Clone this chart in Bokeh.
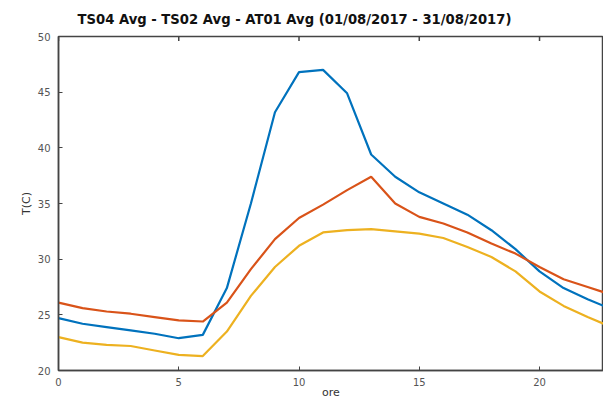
import math
from bokeh.plotting import figure
from bokeh.models import Range1d, FixedTicker
from bokeh.embed import file_html
from bokeh.resources import INLINE

hours = list(range(24))
ts04 = [24.7, 24.2, 23.9, 23.6, 23.3, 22.9, 23.2, 27.4, 35.0, 43.2, 46.8, 47.0,
        44.9, 39.4, 37.4, 36.0, 35.0, 34.0, 32.6, 30.9, 28.9, 27.4, 26.4, 25.5]
ts02 = [26.1, 25.6, 25.3, 25.1, 24.8, 24.5, 24.4, 26.1, 29.1, 31.8, 33.7, 34.9,
        36.2, 37.4, 35.0, 33.8, 33.2, 32.4, 31.4, 30.5, 29.3, 28.2, 27.5, 26.8]
at01 = [23.0, 22.5, 22.3, 22.2, 21.8, 21.4, 21.3, 23.5, 26.7, 29.3, 31.2, 32.4,
        32.6, 32.7, 32.5, 32.3, 31.9, 31.1, 30.2, 28.9, 27.1, 25.8, 24.8, 23.9]

x_ticks = [0, 5, 10, 15, 20]
y_ticks = [20, 25, 30, 35, 40, 45, 50]

p = figure(width=603, height=401, output_backend="svg", toolbar_location=None,
           x_range=Range1d(0, 22.66), y_range=Range1d(20, 50),
           min_border_left=58, min_border_right=0, min_border_top=36,
           min_border_bottom=29,
           title="TS04 Avg - TS02 Avg - AT01 Avg  (01/08/2017 - 31/08/2017)")

p.title.text_font = "DejaVu Sans"
p.title.text_font_style = "bold"
p.title.text_font_size = "13.2px"
p.title.align = "left"
p.title.offset = 19
p.title.standoff = 19
p.title.text_color = "#111111"

p.grid.visible = False
p.outline_line_color = "#444444"
p.outline_line_width = 1.5
p.background_fill_color = "white"
p.border_fill_color = "white"

for ax in [p.xaxis[0], p.yaxis[0]]:
    ax.axis_line_color = "#444444"
    ax.axis_line_width = 1.5
    ax.major_tick_in = 4
    ax.major_tick_out = 0
    ax.major_tick_line_color = "#444444"
    ax.minor_tick_line_color = None
    ax.major_label_text_font = "DejaVu Sans"
    ax.major_label_text_font_size = "10px"
    ax.major_label_text_color = "#555555"
    ax.axis_label_text_font = "DejaVu Sans"
    ax.axis_label_text_font_size = "11px"
    ax.axis_label_text_font_style = "normal"
    ax.axis_label_text_color = "#333333"

p.xaxis[0].ticker = FixedTicker(ticks=x_ticks)
p.yaxis[0].ticker = FixedTicker(ticks=y_ticks)
p.xaxis[0].axis_label = "ore"
p.yaxis[0].axis_label = "T(C)"
p.xaxis[0].major_label_standoff = 7
p.xaxis[0].axis_label_standoff = -3
p.yaxis[0].major_label_standoff = 8
p.yaxis[0].axis_label_standoff = 2

# mirrored tick marks on the top edge of the box
p.scatter(x_ticks, [y_ticks[-1]] * len(x_ticks), marker="dash", angle=math.pi / 2,
          size=9, line_color="#444444", line_width=1.5)

p.line(hours, ts04, line_color="#0072BD", line_width=2.2)
p.line(hours, ts02, line_color="#D95319", line_width=2.2)
p.line(hours, at01, line_color="#EDB120", line_width=2.2)

open("out.html", "w").write(file_html(p, INLINE))
